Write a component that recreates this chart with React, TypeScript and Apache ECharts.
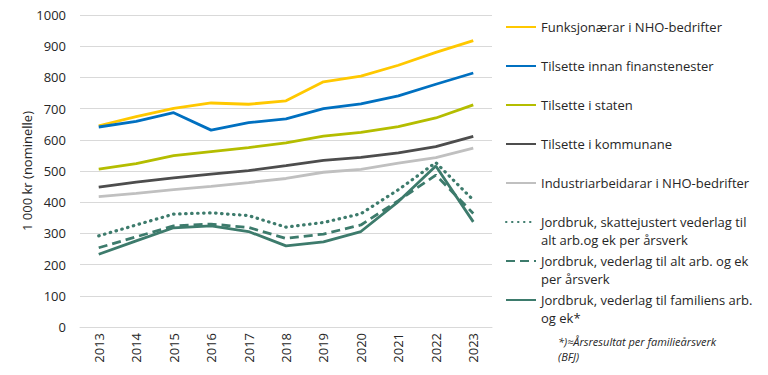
import React, { useEffect, useRef } from "react";
import * as echarts from "echarts";

const years = ["2013", "2014", "2015", "2016", "2017", "2018", "2019", "2020", "2021", "2022", "2023"];

const funksjonaerar = [645, 674, 701, 718, 714, 725, 786, 804, 839, 880, 918];
const finans = [641, 659, 687, 631, 655, 667, 700, 715, 741, 778, 814];
const staten = [506, 524, 549, 562, 575, 590, 612, 624, 642, 670, 712];
const kommunane = [448, 464, 478, 490, 501, 517, 534, 544, 558, 578, 611];
const industri = [418, 428, 440, 451, 463, 476, 496, 505, 525, 543, 573];
const skattejustert = [292, 327, 362, 366, 357, 320, 335, 363, 440, 527, 407];
const altArb = [254, 289, 324, 330, 319, 284, 298, 327, 405, 487, 364];
const familie = [233, 276, 318, 324, 306, 260, 273, 306, 402, 516, 337];

const seriesNames = [
  "Funksjonærar i NHO-bedrifter",
  "Tilsette innan finanstenester",
  "Tilsette i staten",
  "Tilsette i kommunane",
  "Industriarbeidarar i NHO-bedrifter",
  "Jordbruk, skattejustert vederlag til alt arb.og ek per årsverk",
  "Jordbruk, vederlag til alt arb. og ek per årsverk",
  "Jordbruk, vederlag til familiens arb. og ek*",
];
const legendLines = [
  ["Funksjonærar i NHO-bedrifter"],
  ["Tilsette innan finanstenester"],
  ["Tilsette i staten"],
  ["Tilsette i kommunane"],
  ["Industriarbeidarar i NHO-bedrifter"],
  ["Jordbruk, skattejustert vederlag til", "alt arb.og ek per årsverk"],
  ["Jordbruk, vederlag til alt arb. og ek", "per årsverk"],
  ["Jordbruk, vederlag til familiens arb.", "og ek*"],
];
const seriesData = [funksjonaerar, finans, staten, kommunane, industri, skattejustert, altArb, familie];
const colors = ["#FFC800", "#0070C0", "#B4BD00", "#4D4D4D", "#C0C0C0", "#3D7B6C", "#3D7B6C", "#3D7B6C"];
const lineTypes: any[] = ["solid", "solid", "solid", "solid", "solid", [0.5, 5.5], [9, 5], "solid"];
const legendY = [27, 66, 105, 144, 183, 222, 261, 300];
const footnote = "*)≈Årsresultat per familieårsverk\n(BFJ)";

const FONT = "Open Sans";
const LH = 17.5;

export default function App() {
  const ref = useRef<HTMLDivElement>(null);
  useEffect(() => {
    if (!ref.current) return;
    document.body.style.margin = "0";
    const chart = echarts.init(ref.current, undefined, { renderer: "svg" });
    const legends = seriesNames.map((name, i) => {
      const multi = legendLines[i].length > 1;
      const label = multi ? "\n" + legendLines[i].join("\n") : legendLines[i][0];
      return {
        show: true,
        orient: "vertical",
        left: 505,
        top: multi ? legendY[i] - 1.5 * LH : legendY[i] - LH / 2,
        padding: 0,
        itemWidth: 30,
        itemHeight: 12,
        data: [name],
        formatter: () => label,
        selectedMode: false,
        itemStyle: { opacity: 0 },
        textStyle: {
          fontFamily: FONT,
          fontSize: 13,
          color: "#262626",
          lineHeight: LH,
        },
      };
    });
    chart.setOption({
      animation: false,
      textStyle: { fontFamily: FONT },
      grid: { left: 80, right: 276, top: 15, bottom: 48 },
      legend: legends,
      xAxis: {
        type: "category",
        data: years,
        boundaryGap: true,
        axisLine: { show: true, lineStyle: { color: "#D9D9D9", width: 1 } },
        axisTick: { show: false },
        axisLabel: { rotate: 90, fontSize: 13, color: "#262626", margin: 6, fontFamily: FONT },
      },
      yAxis: {
        type: "value",
        min: 0,
        max: 1000,
        interval: 100,
        name: "1 000 kr (nominelle)",
        nameLocation: "middle",
        nameGap: 47,
        nameRotate: 90,
        nameMoveOverlap: false,
        nameTextStyle: { fontSize: 13, color: "#262626", fontFamily: FONT },
        axisLine: { show: false },
        axisTick: { show: false },
        axisLabel: {
          fontSize: 13,
          color: "#262626",
          margin: 14,
          fontFamily: FONT,
          formatter: (v: number) => String(v),
        },
        splitLine: { lineStyle: { color: "#D9D9D9", width: 1 } },
      },
      graphic: [
        {
          type: "text",
          left: 558,
          top: 334,
          style: {
            text: footnote,
            font: `italic 11px "${FONT}"`,
            fill: "#262626",
            lineHeight: 15,
          },
        },
      ],
      series: seriesNames.map((name, i) => ({
        name,
        type: "line",
        data: seriesData[i],
        symbol: "none",
        lineStyle: {
          color: colors[i],
          width: i === 5 ? 3.2 : 2.8,
          type: lineTypes[i],
          cap: i === 5 ? "round" : "butt",
        },
        itemStyle: { color: colors[i] },
        z: 2 + i,
      })),
    });
    return () => chart.dispose();
  }, []);
  return <div ref={ref} style={{ width: 768, height: 375 }} />;
}
